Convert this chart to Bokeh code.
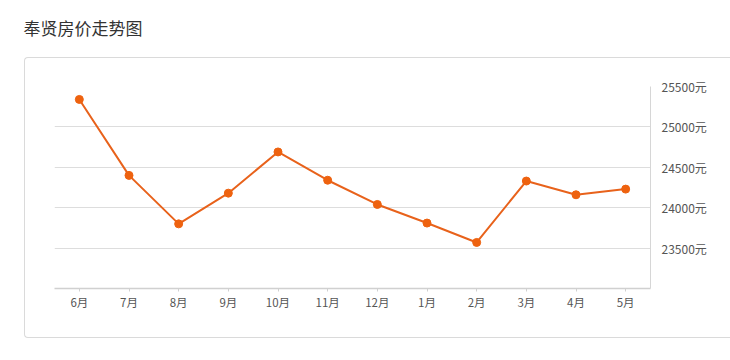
from bokeh.plotting import figure
from bokeh.models import (FactorRange, Range1d, FixedTicker, PrintfTickFormatter,
                          InlineStyleSheet, Title)
from bokeh.embed import file_html
from bokeh.resources import INLINE

# ---- data ----
months = ["6月", "7月", "8月", "9月", "10月", "11月", "12月", "1月", "2月", "3月", "4月", "5月"]
prices = [25340, 24400, 23800, 24180, 24690, 24340, 24040, 23810, 23570, 24330, 24160, 24230]
y_ticks = [23500, 24000, 24500, 25000, 25500]
title_text = "奉贤房价走势图"

FONT = "Noto Sans CJK SC"
LINE_COLOR = "#e8621b"
POINT_COLOR = "#ee620f"

p = figure(width=722, height=352, output_backend="svg", toolbar_location=None,
           x_range=FactorRange(*months, range_padding=0),
           y_range=Range1d(23000, 25500),
           y_axis_location="right",
           min_border_left=54, min_border_right=72,
           min_border_top=86, min_border_bottom=64)

p.background_fill_color = "white"
p.border_fill_color = "white"
p.outline_line_color = None

# title (a blank spacer sits between the title and the plot area)
spacer = Title(text=" ", text_font_size="1px", standoff=33)
head = Title(text=title_text, align="left", offset=-31, standoff=22,
             text_font=FONT, text_font_size="17px", text_font_style="normal",
             text_color="#333333")
p.add_layout(spacer, "above")
p.add_layout(head, "above")

# panel frame drawn as a CSS overlay
p.stylesheets = [InlineStyleSheet(css="""
:host::after {
  content: "";
  position: absolute;
  left: 24px; top: 57px; width: 720px; height: 279px;
  border: 1px solid #dadada; border-right: none;
  border-radius: 4px 0 0 4px;
  pointer-events: none;
}
""")]

# grid
p.xgrid.grid_line_color = None
p.ygrid.ticker = FixedTicker(ticks=y_ticks)
p.ygrid.grid_line_color = "#dddddd"
p.ygrid.grid_line_width = 1

# y axis (right)
p.yaxis.ticker = FixedTicker(ticks=y_ticks)
p.yaxis.formatter = PrintfTickFormatter(format="%d元")
p.yaxis.axis_line_color = "#d6d6d6"
p.yaxis.axis_line_width = 1
p.yaxis.major_tick_line_color = None
p.yaxis.minor_tick_line_color = None
p.yaxis.major_label_text_font = FONT
p.yaxis.major_label_text_font_size = "12px"
p.yaxis.major_label_text_color = "#555555"
p.yaxis.major_label_standoff = 5

# x axis
p.xaxis.axis_line_color = "#d0d0d0"
p.xaxis.axis_line_width = 1.5
p.xaxis.major_tick_line_color = "#d0d0d0"
p.xaxis.major_tick_in = 0
p.xaxis.major_tick_out = 3
p.xaxis.minor_tick_line_color = None
p.xaxis.major_label_text_font = FONT
p.xaxis.major_label_text_font_size = "11.5px"
p.xaxis.major_label_text_color = "#555555"
p.xaxis.major_label_standoff = 2

# series
p.line(months, prices, line_color=LINE_COLOR, line_width=2)
p.scatter(months, prices, size=8, fill_color=POINT_COLOR, line_color=POINT_COLOR)

open("out.html", "w").write(file_html(p, INLINE))
